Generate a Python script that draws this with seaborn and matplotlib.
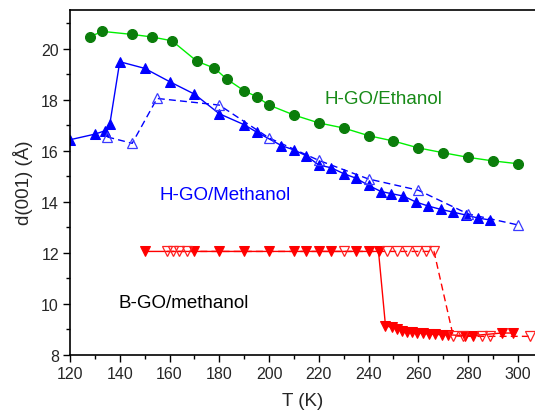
import matplotlib
matplotlib.use("Agg")
import matplotlib.pyplot as plt
import seaborn as sns
import numpy as np
from matplotlib.ticker import MultipleLocator

# ---- data ----
eth_T = [128, 133, 145, 153, 161, 171, 178, 183, 190, 195, 200, 210, 220, 230, 240, 250, 260, 270, 280, 290, 300]
eth_d = [20.47, 20.68, 20.56, 20.46, 20.31, 19.51, 19.24, 18.81, 18.35, 18.12, 17.79, 17.40, 17.09, 16.89,
         16.59, 16.38, 16.11, 15.92, 15.74, 15.60, 15.49]

meth_fill_T = [120, 130, 134, 136, 140, 150, 160, 170, 180, 190, 195, 205, 210, 215, 220, 225, 230, 235,
               240, 245, 249, 254, 259, 264, 269, 274, 279, 284, 289]
meth_fill_d = [16.43, 16.65, 16.78, 17.04, 19.49, 19.23, 18.71, 18.22, 17.45, 17.02, 16.73, 16.20, 16.03,
               15.80, 15.44, 15.33, 15.10, 14.92, 14.64, 14.40, 14.32, 14.22, 13.99, 13.83, 13.70, 13.59,
               13.48, 13.36, 13.28]

meth_open_T = [135, 145, 155, 180, 200, 220, 240, 260, 280, 300]
meth_open_d = [16.54, 16.29, 18.05, 17.79, 16.50, 15.62, 14.89, 14.45, 13.52, 13.09]

bgo_fill_T = [150, 170, 180, 190, 200, 210, 215, 220, 225, 235, 240, 244,
              246.8, 249.3, 251.3, 253.3, 255.4, 257.4, 259.4, 261.8, 264.2, 266.9, 269.5, 271.8,
              278.8, 281.9, 293.5, 298.2]
bgo_fill_d = [12.05, 12.05, 12.05, 12.05, 12.05, 12.05, 12.05, 12.05, 12.05, 12.05, 12.05, 12.05,
              9.14, 9.07, 9.01, 8.94, 8.90, 8.88, 8.85, 8.84, 8.81, 8.80, 8.78, 8.78,
              8.75, 8.75, 8.85, 8.85]

bgo_open_T = [159, 161.5, 164, 167, 230, 247.3, 251.3, 255.4, 259.4, 263, 266.3,
              274, 278, 285.5, 289, 305]
bgo_open_d = [12.05, 12.05, 12.05, 12.05, 12.05, 12.05, 12.05, 12.05, 12.05, 12.05, 12.05,
              8.74, 8.72, 8.72, 8.72, 8.72]

labels = ["H-GO/Ethanol", "H-GO/Methanol", "B-GO/methanol"]
label_pos_T = [246.0, 182.3, 165.8]
label_pos_d = [18.03, 14.28, 10.05]
label_colors = ["#178a17", "#0000ff", "#000000"]

xlabel = "T (K)"
ylabel = "d(001) (Å)"

# ---- plot ----
sns.set_theme(style="white")
plt.rcParams['font.family'] = ['Liberation Sans', 'DejaVu Sans']

fig = plt.figure(figsize=(5.35, 4.14), dpi=100)
ax = fig.add_axes([70/535, 58.3/414, 1 - 70/535, (355.7 - 10.7)/414])

common = dict(sort=False, estimator=None, ax=ax, linewidth=1.0)

sns.lineplot(x=eth_T, y=eth_d, color="#00f000", marker="o", markersize=7.2,
             markerfacecolor="#0b7d0b", markeredgecolor="#0b7d0b", **common)
sns.lineplot(x=meth_fill_T, y=meth_fill_d, color="#0000ff", marker="^", markersize=7.5,
             markerfacecolor="#0000ff", markeredgecolor="#0000ff", **common)
sns.lineplot(x=meth_open_T, y=meth_open_d, color="#0000ff", marker="^", markersize=7.5,
             markerfacecolor="none", markeredgecolor="#3a3aff", markeredgewidth=0.9,
             linestyle=(0, (5, 3)), **common)
sns.lineplot(x=bgo_fill_T, y=bgo_fill_d, color="#ff0000", marker="v", markersize=7.5,
             markerfacecolor="#ff0000", markeredgecolor="#ff0000", **common)
sns.lineplot(x=bgo_open_T, y=bgo_open_d, color="#ff0000", marker="v", markersize=7.5,
             markerfacecolor="none", markeredgecolor="#ff2020", markeredgewidth=0.9,
             linestyle=(0, (5, 3)), **common)

for txt, tx, ty, c in zip(labels, label_pos_T, label_pos_d, label_colors):
    ax.text(tx, ty, txt, color=c, fontsize=13.5, ha="center", va="center")

ax.set_xlim(120, 306.9)
ax.set_ylim(8, 21.53)
ax.xaxis.set_major_locator(MultipleLocator(20))
ax.xaxis.set_minor_locator(MultipleLocator(10))
ax.yaxis.set_major_locator(MultipleLocator(2))
ax.yaxis.set_minor_locator(MultipleLocator(1))
ax.tick_params(which="major", direction="out", length=5, width=1, labelsize=11.5, color="black",
               bottom=True, left=True, pad=3)
ax.tick_params(which="minor", direction="out", length=3, width=1, color="black", bottom=True, left=True)
for s in ["left", "bottom", "top"]:
    ax.spines[s].set_color("black")
    ax.spines[s].set_linewidth(1.2)
ax.spines["right"].set_visible(False)
ax.set_xlabel(xlabel, fontsize=13.5, labelpad=8)
ax.set_ylabel(ylabel, fontsize=13.5, labelpad=6)

fig.savefig("out.png", dpi=100)
